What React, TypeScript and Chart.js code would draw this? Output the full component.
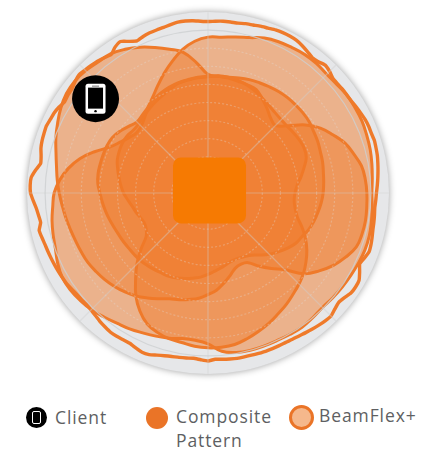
import React, { useEffect, useRef } from "react";
import { Chart, registerables } from "chart.js";

Chart.register(...registerables);

// Bearings in degrees clockwise from the top, every 2.5 degrees
const bearings: number[] = Array.from({ length: 144 }, (_, i) => i * 2.5);

const ringValues = [18, 36, 54, 72, 90, 108, 126, 144, 162, 180];
const ORANGE = "#ef7a2a";
const FILL = "rgba(240,122,40,0.48)";

// Lobes, one value every 5 degrees
const lobeUpperLeft = [118,116.5,116,115,114.5,113.5,108,102.5,97,95,104,118,129,137,145,150,155,157,158,158.5,159,158.5,157,151,144,135,125,108,98,89,80,78,79.5,85,91,97,101,105,107.5,110,112,116,120.5,125,128.5,131.5,134,136,138,139,140,141.5,143.5,145.5,148,150.5,153,156.5,161,165,169,172,173,172,170,169,165,160,154,148,142,130];
const lobeBig = [155,155.5,157.5,160,164,166,167,168,168,167,167.5,169,169,169,168,167,165.5,164,163,164,165,166,166,165,164,163,162,161,162,163,162.5,162,162,162,161,158,150,147,147,149.5,151.5,153.5,156,158,161,164,166,167.5,167.5,165,161.5,159.5,157.5,155,153,148,141,132,120,108,101,96,93,94,98,104,110,118,127,136,145,151.5];
const lobeInner = [116,116.5,117,118.5,120,121,122,123,123.5,123.5,123.5,123,121.5,120.5,119,118,116.5,115.5,114.5,113,111,109,106.5,103,100.5,96,91,86,80.5,75.5,73,71.5,71.5,73,75.5,78,81,84,86,88,90,91.5,92,93,94,95,95.5,96,97,98,99.5,101.5,103.5,105.5,107.5,110,111,111,111,111,110,107,103,100,101.5,104,107.5,110,112,113.5,114.5,115.5];
const lobeLower = [115.5,117,117,116,114,111.5,108.5,106,104,103,103,104,105,105.5,104,99,94,89,86.5,86,88,92,99.5,107,113.5,119,124,128,131.5,135.5,139,143,146.5,150,153,154,154,153,151,150,147.5,143.5,135.5,125,112,100,87,75,71,70,71.5,74,76.5,80,84,87,90,93,96,97.5,98.5,98.5,97,97.5,99.5,102,104.5,107,110,113,114,115];

// Measured outer envelope, one value every 2.5 degrees
const envelope = [170.5,171,171.5,171.5,171.5,172.5,173,174,174.5,175.5,176,176,175.5,174,172,170,170.5,172.5,171,168.5,168.5,169,169,169.5,170.5,171.5,172.5,173,173,173.5,173,172.5,171.5,170.5,169.5,168.5,167.5,167,166.5,167,167.5,168,169,170,170.5,168.5,166.5,170,173.5,174,173.5,171,169.5,171,173,172.5,171.5,170.5,169.5,168.5,168,167.5,167.5,167.5,167.5,167.2,167,167,167,166.5,166,165.5,167,166,165,165.5,166,166.5,167.5,169,171,171.5,170,168.5,168.5,169,169,168,167,165.5,164.5,164,164.5,165,166,167,167.5,168,168.5,169,169.5,170,171,172,169,170,171.5,174,176.5,177,176.5,173,169,170,172,173,173.5,174,173,172.5,171,169,170,170.5,172.5,174,173,172,171,169.5,168,172,174,170,167,168.5,169.5,170,170.5,171.5,172.5,172.5,172,171];

// Client marker and access point position: [bearing index, value]
const clientAt = [124, 146];
const accessPointAt = [12, 3];

const every5 = (v: number[]) => bearings.map((_, i) => (i % 2 ? null : v[i / 2]));

function roundRect(ctx: CanvasRenderingContext2D, x: number, y: number, w: number, h: number, r: number) {
  ctx.beginPath();
  ctx.roundRect(x, y, w, h, r);
}

const backdrop = {
  id: "backdrop",
  beforeDraw(chart: any) {
    const s = chart.scales.r;
    const { ctx } = chart;
    ctx.save();
    ctx.shadowColor = "rgba(0,0,0,0.38)";
    ctx.shadowBlur = 7;
    ctx.fillStyle = "#e6e7e9";
    ctx.beginPath();
    ctx.arc(s.xCenter, s.yCenter, s.drawingArea, 0, Math.PI * 2);
    ctx.fill();
    ctx.restore();
  },
};

const markers = {
  id: "markers",
  afterDraw(chart: any) {
    const s = chart.scales.r;
    const { ctx } = chart;
    const ap = s.getPointPositionForValue(accessPointAt[0], accessPointAt[1]);
    ctx.save();
    ctx.fillStyle = "#f67a02";
    roundRect(ctx, ap.x - 36.5, ap.y - 33, 73, 66, 8);
    ctx.fill();

    const c = s.getPointPositionForValue(clientAt[0], clientAt[1]);
    ctx.fillStyle = "#000";
    ctx.beginPath();
    ctx.arc(c.x, c.y, 23.5, 0, Math.PI * 2);
    ctx.fill();
    ctx.fillStyle = "#fff";
    roundRect(ctx, c.x - 10, c.y - 15, 20, 30, 2.5);
    ctx.fill();
    ctx.fillStyle = "#000";
    ctx.fillRect(c.x - 7.5, c.y - 11, 15, 21);
    ctx.beginPath();
    ctx.arc(c.x, c.y + 12.5, 1.2, 0, Math.PI * 2);
    ctx.fill();
    ctx.fillStyle = "#777";
    ctx.fillRect(c.x - 3.5, c.y - 13, 7, 1);
    ctx.restore();
  },
};

const textStyle: React.CSSProperties = {
  position: "absolute",
  fontFamily: '"Open Sans", sans-serif',
  fontSize: 17.5,
  lineHeight: "24px",
  letterSpacing: "0.9px",
  color: "#5e5f62",
  margin: 0,
};

function dot(left: number, top: number, size: number, extra: React.CSSProperties): React.CSSProperties {
  return { position: "absolute", left, top, width: size, height: size, borderRadius: "50%", boxSizing: "border-box", ...extra };
}

export default function App() {
  const ref = useRef<HTMLCanvasElement>(null);

  useEffect(() => {
    const line = (data: (number | null)[]) => ({
      data,
      spanGaps: true,
      fill: true,
      backgroundColor: FILL,
      borderColor: ORANGE,
      borderWidth: 3,
      tension: 0.4,
      pointRadius: 0,
    });
    const chart = new Chart(ref.current!, {
      type: "radar",
      data: {
        labels: bearings,
        datasets: [
          { data: envelope, fill: false, borderColor: ORANGE, borderWidth: 3.4, tension: 0.15, pointRadius: 0 },
          line(every5(lobeInner)),
          line(every5(lobeLower)),
          line(every5(lobeUpperLeft)),
          line(every5(lobeBig)),
        ],
      } as any,
      options: {
        responsive: false,
        animation: false,
        layout: { padding: { left: 27, right: 44, top: 12, bottom: 18 } },
        plugins: { legend: { display: false }, tooltip: { enabled: false } },
        scales: {
          r: {
            min: 0,
            max: ringValues[ringValues.length - 1],
            ticks: { display: false, stepSize: ringValues[0] },
            pointLabels: { display: false },
            angleLines: {
              display: true,
              lineWidth: 1.2,
              color: (c: any) => (c.index % 18 === 0 ? "rgba(208,208,208,0.42)" : "transparent"),
            },
            grid: {
              z: 1,
              circular: true,
              lineWidth: (c: any) => (c.tick && c.tick.value === 180 ? 0 : 1.2),
              color: (c: any) =>
                c.tick && c.tick.value === 162 ? "rgba(205,207,209,0.8)" : "rgba(226,226,226,0.3)",
            },
            border: {
              dash: (c: any) => (c.tick && c.tick.value === 162 ? [] : [2, 2]),
            },
          },
        },
      } as any,
      plugins: [backdrop, markers],
    });
    return () => chart.destroy();
  }, []);

  return (
    <div style={{ position: "absolute", left: 0, top: 0, width: 433, height: 452, overflow: "hidden", background: "#fff" }}>
      <canvas ref={ref} width={433} height={392} style={{ position: "absolute", left: 0, top: 0, display: "block" }} />

      <div style={dot(26, 407, 21, { background: "#000" })}>
        <div style={{ position: "absolute", left: 6, top: 4, width: 9, height: 13, background: "#000", border: "1.5px solid #fff", borderRadius: 2, boxSizing: "border-box" }} />
      </div>
      <p style={{ ...textStyle, left: 55, top: 405 }}>Client</p>

      <div style={dot(146, 407, 22, { background: "#ea7427" })} />
      <p style={{ ...textStyle, left: 176, top: 404 }}>Composite<br />Pattern</p>

      <div style={dot(289, 405, 25, { background: "#f5b88c", border: "3.5px solid #ea7427" })} />
      <p style={{ ...textStyle, left: 319, top: 403 }}>BeamFlex+</p>
    </div>
  );
}
